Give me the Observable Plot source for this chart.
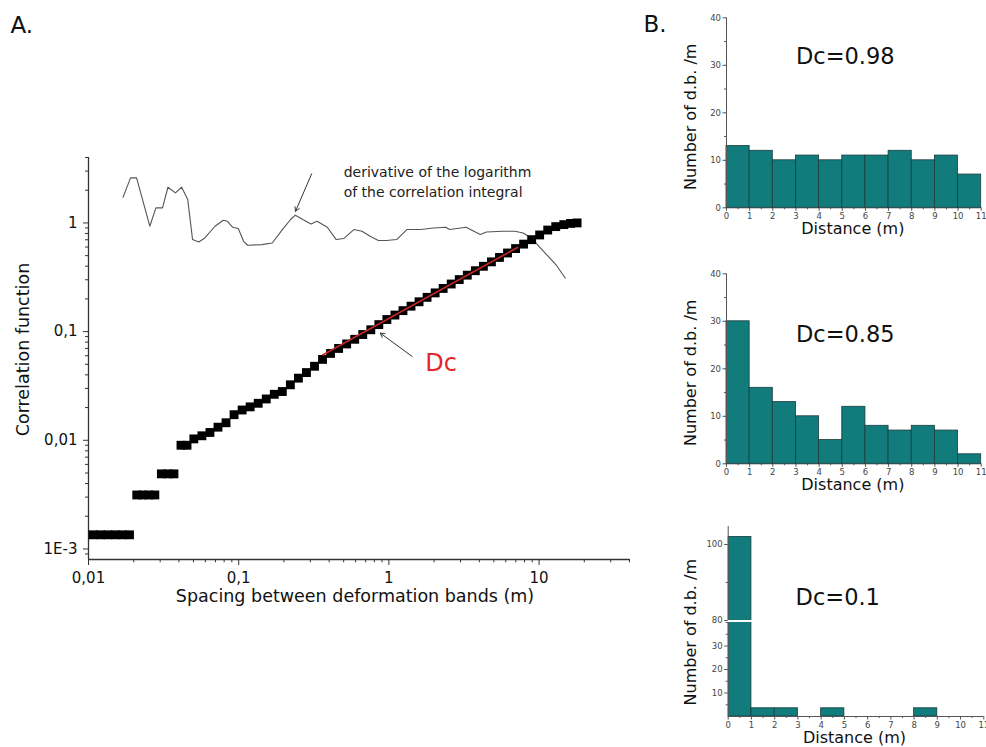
<!DOCTYPE html>
<html><head><meta charset="utf-8">
<script src="https://cdn.jsdelivr.net/npm/d3@7"></script>
<script src="https://cdn.jsdelivr.net/npm/@observablehq/plot@0.6"></script>
<style>
html,body{margin:0;padding:0;background:#fff;}
#fig{position:relative;width:986px;height:747px;overflow:hidden;background:#fff;}
</style></head><body><div id="fig"></div>
<script>
// ---------- Panel A data ----------
const corrX = [0.01072,0.01203,0.0135,0.01504,0.01676,0.01875,
  0.02096,0.02298,0.02521,0.02765,
  0.03056,0.03379,0.03707,
  0.04128,0.04529,
  0.05028,0.05689,0.06436,0.07279,0.08234,0.09316,0.1054,0.1192,0.1349,0.1526,0.1726,0.1952,0.2208,0.2498,0.2826,0.3197,0.3616,0.4091,
  0.4627,0.5235,0.5922,0.6699,0.7578,0.8572,0.9696,1.097,1.241,1.404,1.588,1.796,2.032,2.298,2.600,2.941,3.327,3.764,4.258,4.817,5.449,6.164,6.973,7.888,8.925,
  10.09,11.42,12.91,14.61,16.2,17.91];
const corrY = [0.00135,0.00135,0.00135,0.00135,0.00135,0.00135,
  0.00314,0.00314,0.00314,0.00314,
  0.00491,0.00491,0.00491,
  0.0090,0.0090,
  0.0103,0.0110,0.0118,0.0132,0.0145,0.0172,0.0190,0.0203,0.0219,0.0240,0.0265,0.0281,0.0324,0.0373,0.0420,0.0480,0.0555,0.0630,
  0.0700,0.0770,0.0850,0.0940,0.1040,0.1160,0.1292,0.1420,0.1560,0.1714,0.1882,0.2067,0.2271,0.2495,0.2741,0.3011,0.3307,0.3633,0.3990,0.4384,0.4816,0.5290,0.5811,0.6383,0.7014,
  0.775,0.86,0.925,0.965,0.99,1.0];

const derivX = [0.0170,0.01905,0.0209,0.0256,0.0281,0.0311,0.0338,0.0379,0.0417,0.0458,0.0493,0.0542,0.0595,0.0696,0.0789,0.0839,0.0910,0.0994,0.1078,0.1147,0.1429,0.1671,0.1955,0.2214,0.2384,0.2673,0.3028,0.3326,0.3888,0.4459,0.5000,0.5848,0.662,0.750,0.851,0.964,1.126,1.318,1.640,1.977,2.389,2.541,3.266,4.058,4.465,5.725,6.907,7.834,8.878,10.71,12.93,14.93];
const derivY = [1.726,2.60,2.60,0.933,1.375,1.375,2.13,1.89,2.13,1.64,0.703,0.668,0.727,0.932,1.059,1.037,0.913,0.888,0.678,0.623,0.632,0.654,0.869,1.075,1.178,1.075,0.979,1.037,0.913,0.703,0.718,0.869,0.839,0.754,0.689,0.689,0.703,0.869,0.869,0.899,0.913,0.869,0.913,0.782,0.826,0.839,0.839,0.809,0.727,0.548,0.414,0.311];

const fitX = [0.362, 7.2];
const fitY = [0.061, 0.595];

const arrowX1 = [0.306, 1.429];
const arrowY1 = [2.83, 0.059];
const arrowX2 = [0.239, 0.877];
const arrowY2 = [1.28, 0.0968];

const annoText = ["derivative of the logarithm", "of the correlation integral"];
const annoX = [0.5, 0.5];
const annoY = [2.93, 1.92];

const dcMainText = ["Dc"];
const dcMainX = [1.746];
const dcMainY = [0.0509];

const xDomain = [0.01, 40];
const yDomain = [0.0008, 4];
const xMajor = [0.01, 0.1, 1, 10];
const xMajorLabels = ["0,01", "0,1", "1", "10"];
const xMinor = [0.02,0.03,0.04,0.05,0.06,0.07,0.08,0.09,0.2,0.3,0.4,0.5,0.6,0.7,0.8,0.9,2,3,4,5,6,7,8,9,20,30,40];
const yMajor = [0.001, 0.01, 0.1, 1];
const yMajorLabels = ["1E-3", "0,01", "0,1", "1"];
const yMinor = [0.0009,0.002,0.003,0.004,0.005,0.006,0.007,0.008,0.009,0.02,0.03,0.04,0.05,0.06,0.07,0.08,0.09,0.2,0.3,0.4,0.5,0.6,0.7,0.8,0.9,2,3,4];

const xTitle = "Spacing between deformation bands (m)";
const yTitle = "Correlation function";

// ---------- Panel B data ----------
const binStart = [0,1,2,3,4,5,6,7,8,9,10];
const binEnd   = [1,2,3,4,5,6,7,8,9,10,11];
const hist1 = [13,12,10,11,10,11,11,12,10,11,7];
const hist2 = [30,16,13,10,5,12,8,7,8,7,2];
const hist3 = [102,3.5,3.5,0,3.5,0,0,0,3.5,0,0];
const dcLabels = ["Dc=0.98", "Dc=0.85", "Dc=0.1"];
const dcX = [3, 3, 2.9];
const dcY = [31.7, 27.2, 85.9];
const histXTicks = [0,1,2,3,4,5,6,7,8,9,10,11];
const histXMinor = [0.5,1.5,2.5,3.5,4.5,5.5,6.5,7.5,8.5,9.5,10.5];
const histYTicks = [0,10,20,30,40];
const histYMinor = [5,15,25,35];
const hist3UpperTicks = [80,100];
const hist3UpperMinor = [90];
const hist3LowerTicks = [10,20,30];
const hist3LowerMinor = [5,15,25,35,40];
const histYTitle = "Number of d.b. /m";
const histXTitle = "Distance (m)";

// ---------- drawing ----------
const FONT = "'DejaVu Sans', 'Liberation Sans', sans-serif";
const fig = document.getElementById("fig");
function st(left, top) {
  return `position:absolute;left:${left}px;top:${top}px;overflow:visible;background:transparent;font-family:${FONT};color:#111;`;
}
const teal = "#127b7b";
const barStroke = "#1c3c3c";
const axisGray = "#555";

const corrRows = corrX.map((x, i) => ({x, y: corrY[i]}));
const derivRows = derivX.map((x, i) => ({x, y: derivY[i]}));
const fitRows = fitX.map((x, i) => ({x, y: fitY[i]}));
const arrowRows = arrowX1.map((x1, i) => ({x1, y1: arrowY1[i], x2: arrowX2[i], y2: arrowY2[i]}));
const annoRows = annoText.map((t, i) => ({t, x: annoX[i], y: annoY[i]}));
const dcMainRows = dcMainText.map((t, i) => ({t, x: dcMainX[i], y: dcMainY[i]}));

const main = Plot.plot({
  width: 640, height: 615,
  marginLeft: 88, marginRight: 11, marginTop: 157, marginBottom: 56,
  style: st(0, 0),
  x: {type: "log", domain: xDomain},
  y: {type: "log", domain: yDomain},
  marks: [
    Plot.axisX({ticks: xMinor, tickSize: 3.3, tickFormat: () => "", stroke: "#333", label: null}),
    Plot.axisX({ticks: xMajor, tickSize: 6, tickPadding: 7, tickFormat: d => xMajorLabels[xMajor.indexOf(d)], fontSize: 15, fill: "#111", stroke: "#333", label: null}),
    Plot.axisY({ticks: yMinor, tickSize: 3, tickFormat: () => "", stroke: "#333", label: null}),
    Plot.axisY({ticks: yMajor, tickSize: 5, tickPadding: 6, tickFormat: d => yMajorLabels[yMajor.indexOf(d)], fontSize: 15, fill: "#111", stroke: "#333", label: null}),
    Plot.ruleX([xDomain[0]], {stroke: "#333", strokeWidth: 1.3}),
    Plot.ruleY([yDomain[0]], {stroke: "#333", strokeWidth: 1.3}),
    Plot.line(derivRows, {x: "x", y: "y", stroke: "#555", strokeWidth: 1.1}),
    Plot.dot(corrRows, {x: "x", y: "y", symbol: "square", r: 5, fill: "#000", stroke: "none"}),
    Plot.line(fitRows, {x: "x", y: "y", stroke: "#c62828", strokeWidth: 1.6}),
    Plot.arrow(arrowRows, {x1: "x1", y1: "y1", x2: "x2", y2: "y2", stroke: "#333", strokeWidth: 1, headLength: 7}),
    Plot.text(annoRows, {x: "x", y: "y", text: "t", textAnchor: "start", lineAnchor: "middle", fontSize: 14, fill: "#222"}),
    Plot.text(dcMainRows, {x: "x", y: "y", text: "t", textAnchor: "start", lineAnchor: "middle", fontSize: 24, fill: "#e3262b"}),
    Plot.text([yTitle], {frameAnchor: "left", dx: -65, dy: -9, rotate: -90, textAnchor: "middle", lineAnchor: "middle", fontSize: 17.5, fill: "#111"}),
    Plot.text([xTitle], {frameAnchor: "bottom", dx: -4, dy: 37, textAnchor: "middle", lineAnchor: "middle", fontSize: 17.5, fill: "#111"}),
    Plot.text(["A."], {frameAnchor: "top-left", dx: -78, dy: -132, textAnchor: "start", lineAnchor: "middle", fontSize: 23, fill: "#111"})
  ]
});
fig.appendChild(main);

function histRows(vals) {
  return binStart.map((a, i) => ({a, b: binEnd[i], v: vals[i]})).filter(d => d.v > 0);
}
function xAxes() {
  return [
    Plot.axisX({ticks: histXMinor, tickSize: 2, tickFormat: () => "", stroke: axisGray, label: null}),
    Plot.axisX({ticks: histXTicks, tickSize: 3.5, tickPadding: 2, fontSize: 8.5, fill: "#444", stroke: axisGray, label: null}),
    Plot.ruleY([0], {stroke: axisGray, strokeWidth: 1})
  ];
}
function yAxes(major, minor) {
  return [
    Plot.axisY({ticks: minor, tickSize: 2, tickFormat: () => "", stroke: axisGray, label: null}),
    Plot.axisY({ticks: major, tickSize: 3.5, tickPadding: 2, fontSize: 8.5, fill: "#444", stroke: axisGray, label: null}),
  ];
}

function histPanel(top, mT, mB, vals, k, letter) {
  const rows = histRows(vals);
  const marks = [
    ...yAxes(histYTicks, histYMinor),
    ...xAxes(),
    Plot.rect(rows, {x1: "a", x2: "b", y1: 0, y2: "v", fill: teal, stroke: barStroke, strokeWidth: 0.8}),
    Plot.ruleX([0], {stroke: axisGray, strokeWidth: 1}),
    Plot.text([dcLabels[k]], {x: () => dcX[k], y: () => dcY[k], textAnchor: "start", lineAnchor: "middle", fontSize: 22.5, fill: "#111"}),
    Plot.text([histYTitle], {frameAnchor: "left", dx: -36, dy: 4, rotate: -90, textAnchor: "middle", lineAnchor: "middle", fontSize: 16, fill: "#111"}),
    Plot.text([histXTitle], {frameAnchor: "bottom", dx: -1, dy: 21.5, textAnchor: "middle", lineAnchor: "middle", fontSize: 16, fill: "#111"})
  ];
  if (letter) marks.push(Plot.text([letter], {frameAnchor: "top-left", dx: -83, dy: 7, textAnchor: "start", lineAnchor: "middle", fontSize: 23, fill: "#111"}));
  const p = Plot.plot({
    width: 346, height: 250,
    marginLeft: 86, marginRight: 5.3, marginTop: mT, marginBottom: mB,
    style: st(640, top),
    x: {domain: [0, 11]},
    y: {domain: [0, 40]},
    marks
  });
  fig.appendChild(p);
}
histPanel(0, 17.3, 42.7, hist1, 0, "B.");
histPanel(255, 18.3, 41.7, hist2, 1, null);

// Panel 3: broken axis, two stacked plots
const rows3 = histRows(hist3);
const upper = Plot.plot({
  width: 346, height: 112,
  marginLeft: 87.7, marginRight: 2.7, marginTop: 16, marginBottom: 2,
  style: st(640, 510),
  x: {domain: [0, 11], axis: null},
  y: {domain: [80, 104.74]},
  marks: [
    ...yAxes(hist3UpperTicks, hist3UpperMinor),
    Plot.rect(rows3, {x1: "a", x2: "b", y1: 0, y2: "v", fill: teal, stroke: barStroke, strokeWidth: 0.8, clip: true}),
    Plot.ruleX([0], {stroke: axisGray, strokeWidth: 1}),
    Plot.text([dcLabels[2]], {x: () => dcX[2], y: () => dcY[2], textAnchor: "start", lineAnchor: "middle", fontSize: 22.5, fill: "#111"})
  ]
});
fig.appendChild(upper);
const lower = Plot.plot({
  width: 346, height: 127,
  marginLeft: 87.7, marginRight: 2.7, marginTop: 2, marginBottom: 31,
  style: st(640, 620),
  x: {domain: [0, 11]},
  y: {domain: [0, 40]},
  marks: [
    ...yAxes(hist3LowerTicks, hist3LowerMinor),
    ...xAxes(),
    Plot.rect(rows3, {x1: "a", x2: "b", y1: 0, y2: "v", fill: teal, stroke: barStroke, strokeWidth: 0.8, clip: true}),
    Plot.ruleX([0], {stroke: axisGray, strokeWidth: 1}),
    Plot.text([histYTitle], {frameAnchor: "left", dx: -37.7, dy: -37.3, rotate: -90, textAnchor: "middle", lineAnchor: "middle", fontSize: 16, fill: "#111"}),
    Plot.text([histXTitle], {frameAnchor: "bottom", dx: -1.5, dy: 21.5, textAnchor: "middle", lineAnchor: "middle", fontSize: 16, fill: "#111"})
  ]
});
fig.appendChild(lower);
</script></body></html>
